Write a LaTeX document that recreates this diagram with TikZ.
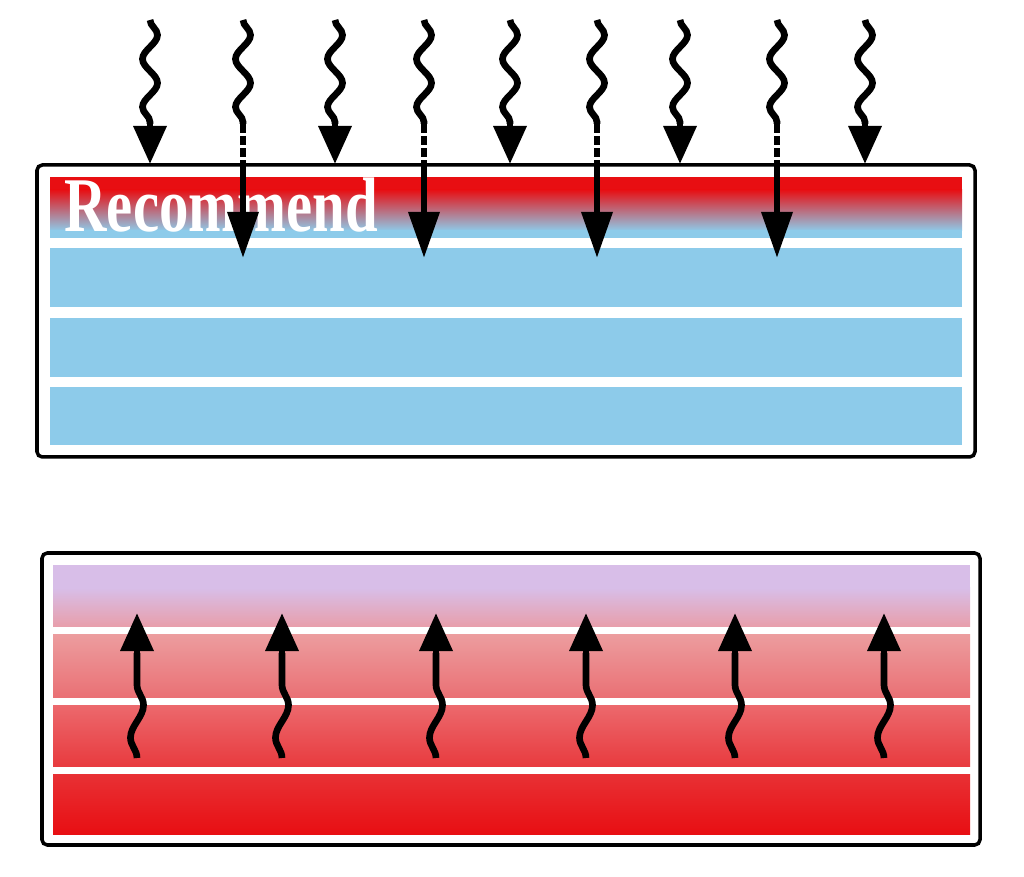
\documentclass[tikz,border=0pt]{standalone}
\usepackage{fontspec}
\newfontfamily\labelfont{Liberation Serif}
\usetikzlibrary{arrows.meta,calc,decorations.pathmorphing}
\definecolor{hotred}{RGB}{232,14,18}
\definecolor{skyb}{RGB}{141,203,234}
\definecolor{mauve}{RGB}{184,112,148}
\definecolor{lilac}{RGB}{216,190,232}
\tikzset{
  frame/.style={draw=black,line width=1pt,rounded corners=1.5pt},
  downwave/.style={line width=1.9pt,decorate,decoration={snake,segment length=0.48cm,amplitude=0.075cm}},
  upwave/.style={line width=1.9pt,decorate,decoration={snake,segment length=0.65cm,amplitude=0.065cm}},
  headarrow/.style={line width=1.9pt,-{Triangle[width=0.32cm,length=0.38cm]}},
  longarrow/.style={line width=1.9pt,-{Triangle[width=0.3cm,length=0.46cm]}},
  brokenline/.style={line width=1.9pt,dash pattern=on 0.09cm off 0.03cm}
}
\begin{document}
\begin{tikzpicture}[x=0.01cm,y=-0.01cm]
  \useasboundingbox (0,0) rectangle (1024,877);
  % upper slab
  \draw[frame] (37,165) rectangle (975,457);
  \fill[hotred] (50,177) rectangle (962,190);
  \shade[top color=hotred,middle color=mauve,bottom color=skyb] (50,189.5) rectangle (962,231);
  \fill[skyb] (50,230.5) rectangle (962,238);
  \fill[skyb] (50,248) rectangle (962,307);
  \fill[skyb] (50,318) rectangle (962,377);
  \fill[skyb] (50,387) rectangle (962,445);
  \node[anchor=base west,inner sep=0pt,text=white,font=\labelfont\bfseries\fontsize{22}{22}\selectfont,xscale=0.76] (rec) at (64,232) {Recommend};
  % lower slab
  \draw[frame] (42,553) rectangle (980,845);
  \shade[top color=lilac,bottom color={rgb,255:red,232;green,158;blue,170}] (53,588) rectangle (970,627);
  \fill[lilac] (53,565) rectangle (970,588.5);
  \shade[top color={rgb,255:red,236;green,156;blue,158},bottom color={rgb,255:red,234;green,112;blue,116}] (53,635) rectangle (970,698);
  \shade[top color={rgb,255:red,236;green,104;blue,108},bottom color={rgb,255:red,232;green,58;blue,62}] (53,706) rectangle (970,767);
  \shade[top color={rgb,255:red,232;green,48;blue,52},bottom color=hotred] (53,775) rectangle (970,835);
  % incoming rays
  \foreach \x [count=\i] in {150,243,335,424,510,597,680,777,865} {
    \coordinate (src\i) at (\x,20);
    \coordinate (bend\i) at (\x,124);
  }
  \foreach \i in {1,3,5,7,9} {
    \coordinate (hit\i) at ($(bend\i)+(0,40)$);
    \draw[downwave] (src\i) -- (bend\i);
    \draw[headarrow] (bend\i) -- (hit\i);
  }
  \foreach \i in {2,4,6,8} {
    \coordinate (edge\i) at ($(bend\i)+(0,41)$);
    \coordinate (deep\i) at ($(bend\i)+(0,134)$);
    \draw[downwave] (src\i) -- (bend\i);
    \draw[brokenline] (bend\i) -- (edge\i);
    \draw[longarrow] (edge\i) -- (deep\i);
  }
  % outgoing rays
  \foreach \x [count=\i] in {137,282,436,586,735,884} {
    \coordinate (foot\i) at (\x,758);
    \coordinate (neck\i) at (\x,653);
    \coordinate (tip\i) at (\x,613);
    \draw[upwave] (foot\i) -- (neck\i);
    \draw[headarrow] (neck\i) -- (tip\i);
  }
\end{tikzpicture}
\end{document}
